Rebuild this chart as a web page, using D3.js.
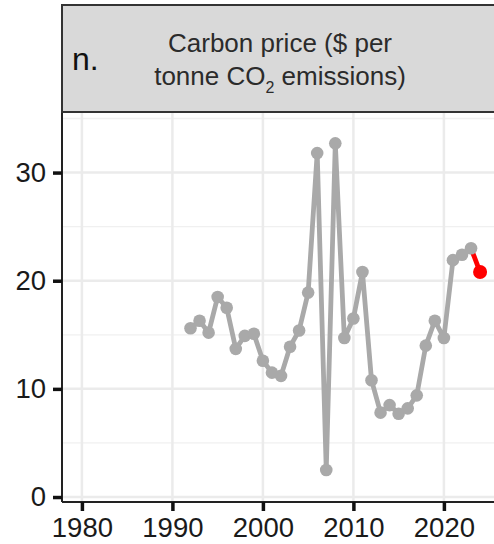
<!DOCTYPE html>
<html>
<head>
<meta charset="utf-8">
<script src="https://cdn.jsdelivr.net/npm/d3@7"></script>
<style>
  body { margin: 0; background: #fff; }
  svg { display: block; font-family: "Liberation Sans", Arial, sans-serif; }
</style>
</head>
<body>
<div id="chart"></div>
<script>
// carbon price series, $ per tonne CO2
const years = [1992, 1993, 1994, 1995, 1996, 1997, 1998, 1999, 2000, 2001, 2002, 2003,
    2004, 2005, 2006, 2007, 2008, 2009, 2010, 2011, 2012, 2013, 2014, 2015, 2016,
    2017, 2018, 2019, 2020, 2021, 2022, 2023]
const prices = [15.6, 16.3, 15.2, 18.5, 17.5, 13.7, 14.9, 15.1, 12.6, 11.5, 11.2, 13.9,
    15.4, 18.9, 31.8, 2.5, 32.7, 14.7, 16.5, 20.8, 10.8, 7.8, 8.5, 7.7, 8.2,
    9.4, 14.0, 16.3, 14.7, 21.9, 22.4, 23.0]
const latestYear = 2024
const latestPrice = 20.8

const xTicks = [1980, 1990, 2000, 2010, 2020]
const yTicks = [0, 10, 20, 30]
const yMinor = [5, 15, 25, 35]

const panelLabel = 'n.'
const titleLine1 = 'Carbon price ($ per'
const titleLine2 = ['tonne CO', '2', ' emissions)']

const fullWidth = 494, fullHeight = 544
const margin = { left: 62, top: 112, right: -6, bottom: 42 }
const width = fullWidth - margin.left - margin.right,
    height = fullHeight - margin.top - margin.bottom

const svg = d3.select('#chart')
    .append('svg')
    .attr('width', fullWidth)
    .attr('height', fullHeight)

const g = svg.append('g')
    .attr('transform', 'translate(' + margin.left + ',' + margin.top + ')')

let x = d3.scaleLinear().domain([1977.8, 2026.2]).range([0, width])
let y = d3.scaleLinear().domain([-0.46, 35.6]).range([height, 0])

// grid
g.append('g')
    .selectAll('line')
    .data(yMinor)
    .enter().append('line')
    .attr('x1', 0).attr('x2', width)
    .attr('y1', d => y(d)).attr('y2', d => y(d))
    .attr('stroke', '#f0f0f0')
    .attr('stroke-width', 1.3)

g.append('g')
    .selectAll('line')
    .data(yTicks)
    .enter().append('line')
    .attr('x1', 0).attr('x2', width)
    .attr('y1', d => y(d)).attr('y2', d => y(d))
    .attr('stroke', '#ebebeb')
    .attr('stroke-width', 2.5)

g.append('g')
    .selectAll('line')
    .data(xTicks)
    .enter().append('line')
    .attr('x1', d => x(d)).attr('x2', d => x(d))
    .attr('y1', 0).attr('y2', height)
    .attr('stroke', '#ebebeb')
    .attr('stroke-width', 2.5)

// series
let data = years.map((d, i) => ({ year: d, value: prices[i] }))
let line = d3.line().x(d => x(d.year)).y(d => y(d.value))

g.append('path')
    .datum([data[data.length - 1], { year: latestYear, value: latestPrice }])
    .attr('d', line)
    .attr('fill', 'none')
    .attr('stroke', '#ff0000')
    .attr('stroke-width', 4.8)

g.append('path')
    .datum(data)
    .attr('d', line)
    .attr('fill', 'none')
    .attr('stroke', '#a9a9a9')
    .attr('stroke-width', 4.8)
    .attr('stroke-linejoin', 'round')

g.append('g')
    .selectAll('circle')
    .data(data)
    .enter().append('circle')
    .attr('cx', d => x(d.year))
    .attr('cy', d => y(d.value))
    .attr('r', 6.3)
    .attr('fill', '#a9a9a9')

g.append('circle')
    .attr('cx', x(latestYear))
    .attr('cy', y(latestPrice))
    .attr('r', 7)
    .attr('fill', '#ff0000')

// axes
let xAxis = g.append('g')
    .attr('class', 'x-axis')
    .attr('transform', 'translate(0,' + height + ')')
    .call(d3.axisBottom(x).tickValues(xTicks).tickFormat(d3.format('d')).tickSize(9).tickPadding(6))
let yAxis = g.append('g')
    .attr('class', 'y-axis')
    .call(d3.axisLeft(y).tickValues(yTicks).tickSize(9).tickPadding(7))

for (let ax of [xAxis, yAxis]) {
    ax.attr('font-family', null)
    ax.select('.domain').attr('stroke', '#222').attr('stroke-width', 2)
    ax.selectAll('.tick line').attr('stroke', '#111').attr('stroke-width', 3.5)
    ax.selectAll('.tick text')
        .attr('fill', '#1a1a1a')
        .attr('font-size', 27.5)
}
xAxis.select('.domain').attr('d', 'M0,0H' + width)
yAxis.select('.domain').attr('d', 'M0,' + height + 'V0')

// strip
let strip = svg.append('g')
    .attr('transform', 'translate(' + margin.left + ',5)')

strip.append('rect')
    .attr('width', width + 10)
    .attr('height', margin.top - 5)
    .attr('fill', '#d9d9d9')
    .attr('stroke', '#333')
    .attr('stroke-width', 2)

strip.append('text')
    .attr('x', 10)
    .attr('y', 65)
    .attr('font-size', 32)
    .attr('fill', '#111')
    .text(panelLabel)

strip.append('text')
    .attr('x', 218)
    .attr('y', 47)
    .attr('text-anchor', 'middle')
    .attr('font-size', 26)
    .attr('fill', '#2b2b2b')
    .text(titleLine1)

let t2 = strip.append('text')
    .attr('x', 218)
    .attr('y', 80)
    .attr('text-anchor', 'middle')
    .attr('font-size', 26)
    .attr('fill', '#2b2b2b')
t2.append('tspan').text(titleLine2[0])
t2.append('tspan').attr('font-size', 16).attr('dy', 8).text(titleLine2[1])
t2.append('tspan').attr('dy', -8).text(titleLine2[2])
</script>
</body>
</html>
